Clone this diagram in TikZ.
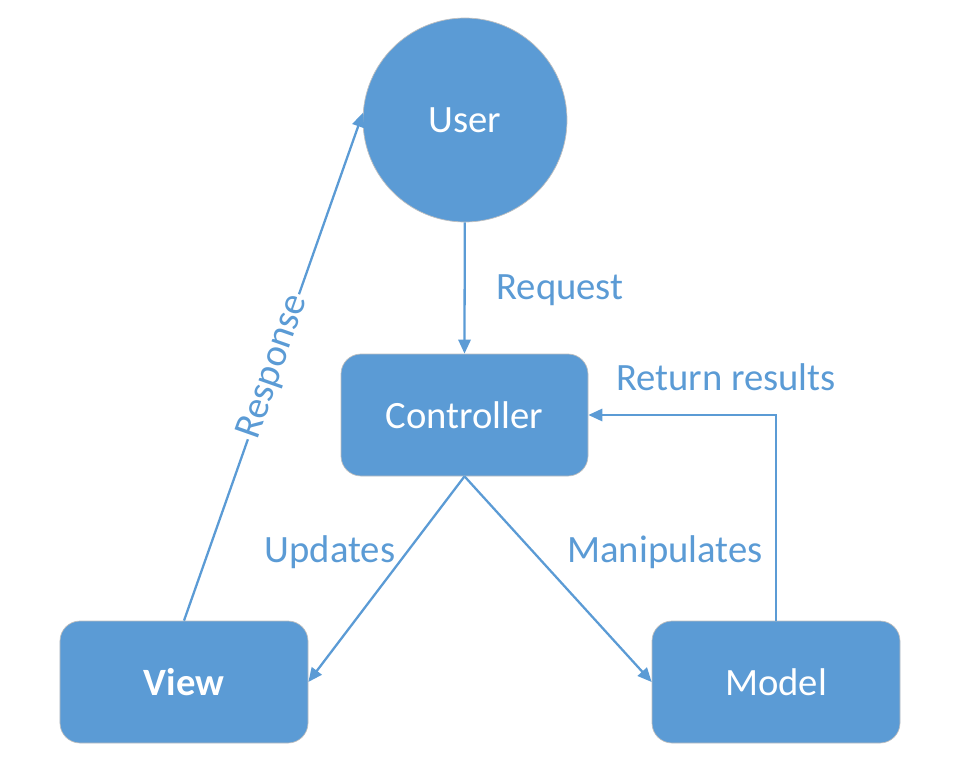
\documentclass[tikz,border=0pt]{standalone}
\usepackage{fontspec}
\setmainfont{Carlito}
\usepackage{tikz}
\usetikzlibrary{arrows.meta,calc,positioning}

\definecolor{mvcblue}{HTML}{5B9BD5}

\begin{document}
\begin{tikzpicture}
		\useasboundingbox (0,0) rectangle (19.16,15.4);
		\begin{scope}[every node/.style={fill=mvcblue,draw=black!25,thin,text=white,font=\fontsize{22}{26}\selectfont}]
			\node[circle,minimum size=4.08cm] (U) at (9.3,13.0) {User};
			\node[rectangle,rounded corners=0.4cm,minimum width=4.94cm,minimum height=2.44cm] (C) at (9.29,7.1) {Controller};
			\node[rectangle,rounded corners=0.4cm,minimum width=4.96cm,minimum height=2.44cm] (V) at (3.68,1.76) {\bfseries View};
			\node[rectangle,rounded corners=0.4cm,minimum width=4.96cm,minimum height=2.44cm] (M) at (15.52,1.76) {Model};
		\end{scope}

		\begin{scope}[every node/.style={text=mvcblue,font=\fontsize{22}{26}\selectfont}]
			\node (req) at (11.2,9.6) {Request};
			\node (ret) at (14.52,7.86) {Return results};
			\node (upd) at (6.6,4.36) {Updates};
			\node (man) at (13.3,4.36) {Manipulates};
		\end{scope}

		\begin{scope}[>={Triangle[length=8pt,width=7pt]},
			every node/.style={fill=white,text=mvcblue,inner sep=1pt,font=\fontsize{22}{26}\selectfont},
			every edge/.style={draw=mvcblue,line width=1.3pt,->}]
			\path (U) edge (C.north);
			\path (C.south) edge (V.east);
			\path (C.south) edge (M.west);
			\path (V.north) edge node[sloped,midway] (resp) {Response} (U.176);
			\path (M.north) edge[to path={|- (\tikztotarget) \tikztonodes}] (C.east);
		\end{scope}
	\end{tikzpicture}
\end{document}
